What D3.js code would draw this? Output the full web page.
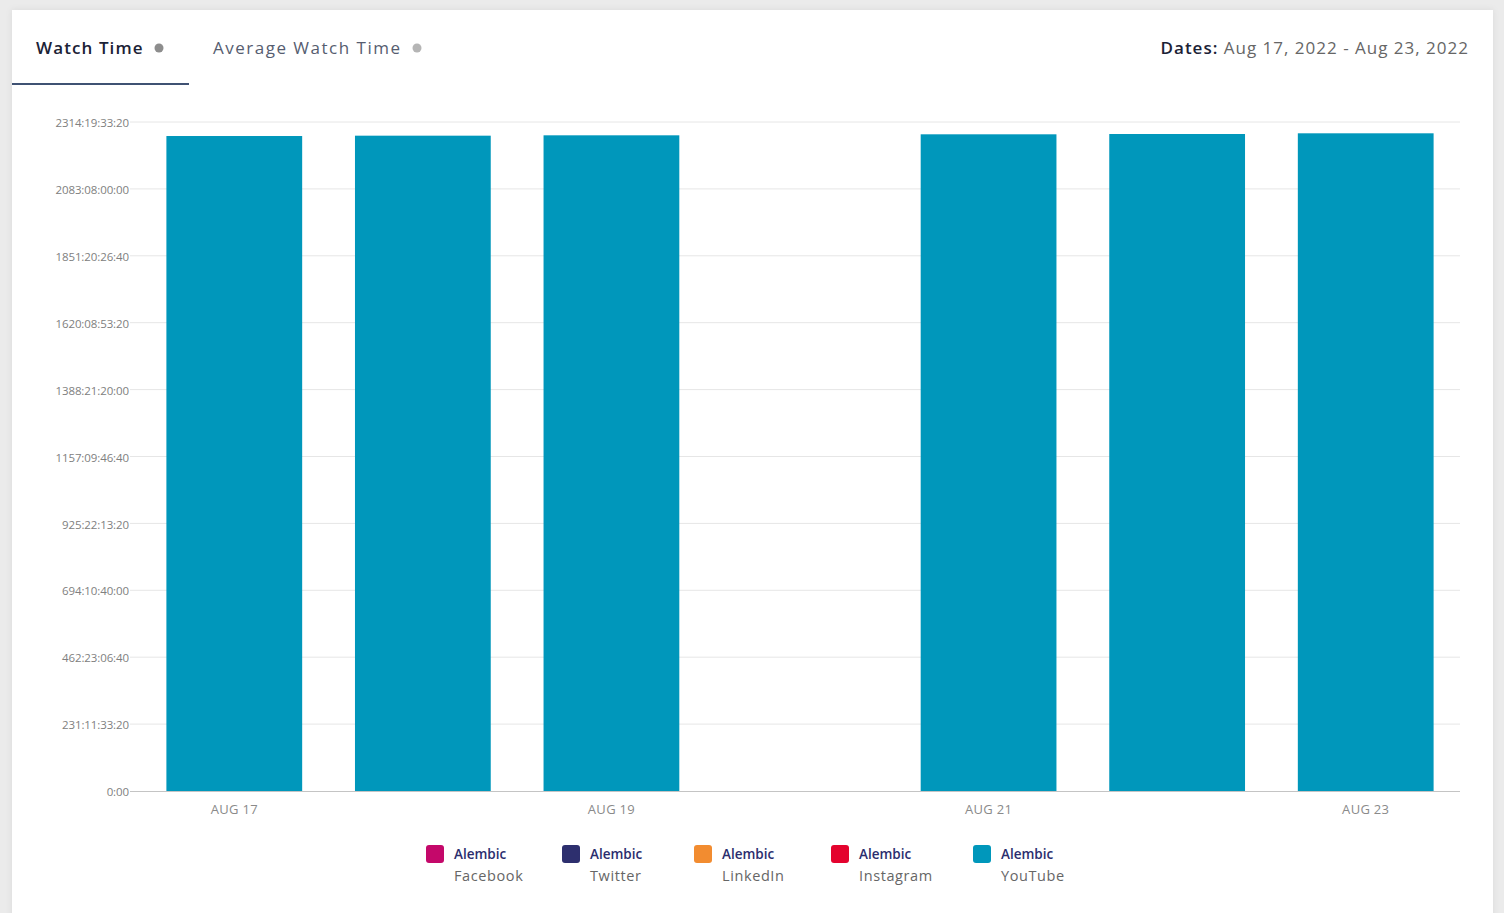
<!DOCTYPE html>
<html>
<head>
<meta charset="utf-8">
<script src="https://cdn.jsdelivr.net/npm/d3@7"></script>
<style>
  html, body { margin: 0; padding: 0; background: #ebebeb; }
  body { width: 1504px; height: 913px; overflow: hidden; font-family: "Open Sans", Inter, sans-serif; }
  #chart { position: absolute; left: 0; top: 0; }
</style>
</head>
<body>
<div id="chart"></div>
<script>
// Watch time per day, in seconds (Aug 20 has no data)
var dates = ["AUG 17", "AUG 18", "AUG 19", "AUG 20", "AUG 21", "AUG 22", "AUG 23"];
var watchSeconds = [195810000, 195910000, 196020000, null, 196320000, 196410000, 196620000];
var shownDates = ["AUG 17", "AUG 19", "AUG 21", "AUG 23"];
var yTicks = [0, 20000000, 40000000, 60000000, 80000000, 100000000, 120000000, 140000000, 160000000, 180000000, 200000000];
var legendNames = ["Facebook", "Twitter", "LinkedIn", "Instagram", "YouTube"];
var legendColors = ["#c4086a", "#2d2f6e", "#f28c30", "#e4032e", "#0097bb"];

var width = 1504, height = 913;
var svg = d3.select("#chart").append("svg")
    .attr("width", width)
    .attr("height", height);

// soft shadow for the card
var defs = svg.append("defs");
var filt = defs.append("filter").attr("id", "shadow").attr("x", "-5%").attr("y", "-5%").attr("width", "110%").attr("height", "110%");
filt.append("feDropShadow").attr("dx", 0).attr("dy", 0).attr("stdDeviation", 3).attr("flood-color", "#000").attr("flood-opacity", 0.08);

svg.append("rect")
    .attr("x", 12).attr("y", 10)
    .attr("width", 1481).attr("height", 920)
    .attr("fill", "#fff")
    .attr("filter", "url(#shadow)");

// Tabs
var header = svg.append("g").style("font-family", "'Open Sans', Inter, sans-serif");
header.append("text").text("Watch Time")
    .attr("x", 36).attr("y", 54)
    .attr("font-size", "17px").attr("font-weight", 600)
    .style("letter-spacing", "1.1px")
    .attr("fill", "#1b2236");
header.append("circle").attr("cx", 159).attr("cy", 48).attr("r", 4.5).attr("fill", "#8d8d8d");
header.append("text").text("Average Watch Time")
    .attr("x", 213).attr("y", 54)
    .attr("font-size", "17px").attr("font-weight", 500)
    .style("letter-spacing", "1.5px")
    .attr("fill", "#565d70");
header.append("circle").attr("cx", 417).attr("cy", 48).attr("r", 4.5).attr("fill", "#b5b5b5");
header.append("rect").attr("x", 12).attr("y", 83).attr("width", 177).attr("height", 2).attr("fill", "#3f5273");

var dt = header.append("text")
    .attr("x", 1469).attr("y", 54)
    .attr("text-anchor", "end")
    .attr("font-size", "17px")
    .style("letter-spacing", "1px");
dt.append("tspan").text("Dates: ").attr("fill", "#1b2236").attr("font-weight", 600);
dt.append("tspan").text("Aug 17, 2022 - Aug 23, 2022").attr("fill", "#666").attr("font-weight", 400);

// Scales
var x = d3.scaleBand()
    .domain(dates)
    .range([140, 1460])
    .paddingInner(0.28)
    .paddingOuter(0.14);

var y = d3.scaleLinear()
    .domain([0, 200000000])
    .range([791, 122]);

function fmtDuration(s) {
    if (s === 0) return "0:00";
    var d = Math.floor(s / 86400);
    var h = Math.floor((s % 86400) / 3600);
    var m = Math.floor((s % 3600) / 60);
    var sec = Math.round(s % 60);
    var p = function (v) { return (v < 10 ? "0" : "") + v; };
    return d + ":" + p(h) + ":" + p(m) + ":" + p(sec);
}

// Grid lines
svg.append("g").selectAll("line")
    .data(yTicks.slice(1))
    .enter().append("line")
    .attr("x1", 130).attr("x2", 1460)
    .attr("y1", function (d) { return y(d); })
    .attr("y2", function (d) { return y(d); })
    .attr("stroke", "#e6e6e6").attr("stroke-width", 1);

// Y axis
var yAxis = svg.append("g")
    .attr("transform", "translate(130,0)")
    .call(d3.axisLeft(y).tickValues(yTicks).tickFormat(fmtDuration).tickSize(0).tickPadding(1));
yAxis.select(".domain").remove();
yAxis.selectAll("text")
    .style("font-family", "'Open Sans', Inter, sans-serif")
    .style("font-size", "11.5px")
    .style("letter-spacing", "-0.1px")
    .attr("dy", "0.4em")
    .attr("fill", "#808080");

// Bars
svg.append("g").selectAll("rect")
    .data(watchSeconds)
    .enter()
    .filter(function (d) { return d !== null; })
    .append("rect")
    .attr("x", function (d) { return x(dates[watchSeconds.indexOf(d)]); })
    .attr("y", function (d) { return y(d); })
    .attr("width", x.bandwidth())
    .attr("height", function (d) { return y(0) - y(d); })
    .attr("fill", "#0097bb");

// X axis
var xAxis = svg.append("g")
    .attr("transform", "translate(0,791)")
    .call(d3.axisBottom(x).tickValues(shownDates).tickSize(0).tickPadding(14));
xAxis.select(".domain").remove();
xAxis.append("line").attr("x1", 130).attr("x2", 1460).attr("y1", 0.5).attr("y2", 0.5).attr("stroke", "#c4c4c4");
xAxis.selectAll("text")
    .style("font-family", "'Open Sans', Inter, sans-serif")
    .style("font-size", "13px")
    .style("letter-spacing", "0.3px")
    .attr("fill", "#8a8a8a");

// Legend
var legendX = [426, 562, 694, 831, 973];
var leg = svg.append("g").selectAll("g")
    .data(legendNames)
    .enter().append("g")
    .attr("transform", function (d, i) { return "translate(" + legendX[i] + ",845)"; });
leg.append("rect")
    .attr("width", 18).attr("height", 18).attr("rx", 3)
    .attr("fill", function (d, i) { return legendColors[i]; });
leg.append("text").text("Alembic")
    .attr("x", 28).attr("y", 14)
    .style("font-family", "'Open Sans', Inter, sans-serif")
    .attr("font-size", "13.5px").attr("font-weight", 600)
    .attr("fill", "#2b2d6e");
leg.append("text").text(function (d) { return d; })
    .attr("x", 28).attr("y", 36)
    .style("font-family", "'Open Sans', Inter, sans-serif")
    .style("letter-spacing", "0.6px")
    .attr("font-size", "14.5px")
    .attr("fill", "#666");
</script>
</body>
</html>
